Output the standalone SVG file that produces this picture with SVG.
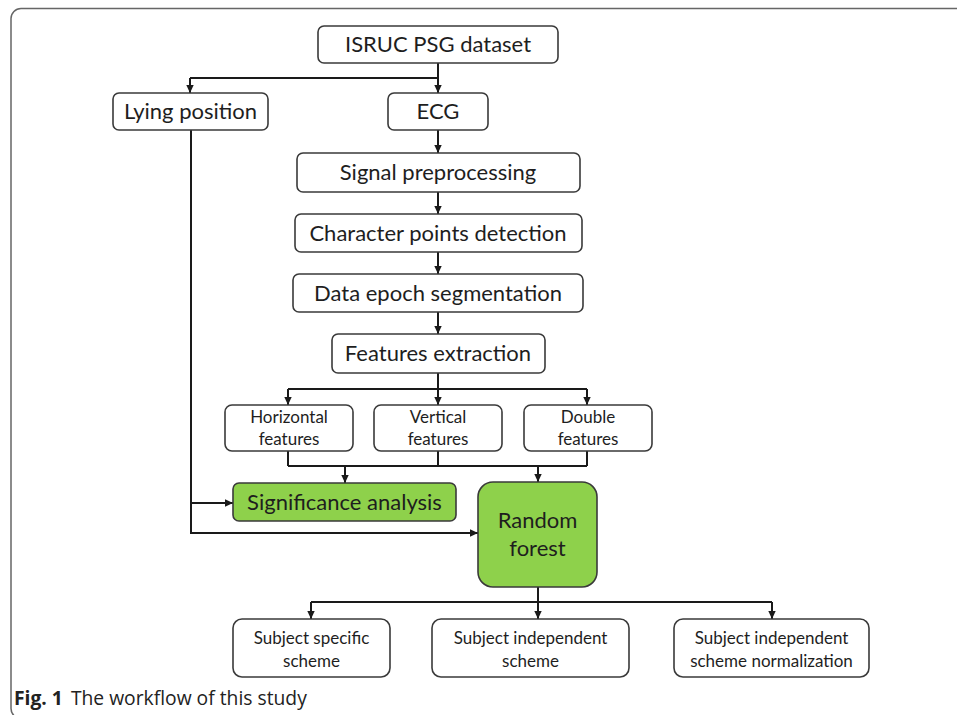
<svg xmlns="http://www.w3.org/2000/svg" width="957" height="715" viewBox="0 0 957 715">
<style>
.box{fill:#fff;stroke:#3a3a3a;stroke-width:1.6}
.green{fill:#8ed14b;stroke:#3a3a3a;stroke-width:1.6}
.t{font-family:Lato,"Open Sans",sans-serif;fill:#1e1e1e;text-anchor:middle}
.big{font-size:22px}
.sm{font-size:17px}
.conn{fill:none;stroke:#1a1a1a;stroke-width:2}
.arr{marker-end:url(#ah)}
.cap{font-family:"Open Sans","Noto Sans",sans-serif;font-size:19.3px;fill:#222}
</style>
<defs>
<marker id="ah" markerUnits="userSpaceOnUse" markerWidth="9" markerHeight="9" refX="8" refY="4.5" orient="auto">
<path d="M0,0.8 L8,4.5 L0,8.2 Z" fill="#1a1a1a"/>
</marker>
</defs>
<rect x="11" y="8.5" width="990" height="710" rx="10" fill="none" stroke="#666" stroke-width="1.5"/>
<g id="connectors">
<path class="conn" d="M438,63 V78 M190,78 H438"/>
<path class="conn arr" d="M438,78 V93"/>
<path class="conn arr" d="M190,78 V93"/>
<path class="conn arr" d="M438,130 V153"/>
<path class="conn arr" d="M438,192 V214"/>
<path class="conn arr" d="M438,252 V274"/>
<path class="conn arr" d="M438,312 V334"/>
<path class="conn" d="M438,373 V389 M288,389 H587"/>
<path class="conn arr" d="M288,389 V405"/>
<path class="conn arr" d="M438,389 V405"/>
<path class="conn arr" d="M587,389 V405"/>
<path class="conn" d="M288,451 V466 M438,451 V466 M587,451 V466 M288,466 H587"/>
<path class="conn arr" d="M345,466 V483"/>
<path class="conn arr" d="M538,466 V482"/>
<path class="conn arr" d="M191,130 V533 H478"/>
<path class="conn arr" d="M191,503 H233"/>
<path class="conn" d="M538,587 V602 M311,602 H772"/>
<path class="conn arr" d="M311,602 V619"/>
<path class="conn arr" d="M538,602 V619"/>
<path class="conn arr" d="M772,602 V619"/>
</g>
<g id="isruc"><rect class="box" x="318" y="26" width="240" height="37" rx="6"/><text class="t big" x="438" y="52">ISRUC PSG dataset</text></g>
<g id="lying"><rect class="box" x="113" y="93" width="155" height="37" rx="6"/><text class="t big" x="190.5" y="119">Lying position</text></g>
<g id="ecg"><rect class="box" x="388" y="93" width="100" height="37" rx="6"/><text class="t big" x="438" y="119">ECG</text></g>
<g id="signal"><rect class="box" x="297" y="153" width="283" height="39" rx="6"/><text class="t big" x="438" y="180">Signal preprocessing</text></g>
<g id="character"><rect class="box" x="295" y="214" width="287" height="38" rx="6"/><text class="t big" x="438" y="241">Character points detection</text></g>
<g id="epoch"><rect class="box" x="293" y="274" width="290" height="38" rx="6"/><text class="t big" x="438" y="301">Data epoch segmentation</text></g>
<g id="features"><rect class="box" x="332" y="334" width="213" height="39" rx="6"/><text class="t big" x="438" y="361">Features extraction</text></g>
<g id="horizontal"><rect class="box" x="225" y="405" width="128" height="46" rx="7"/><text class="t sm" x="289" y="423">Horizontal</text><text class="t sm" x="289" y="445">features</text></g>
<g id="vertical"><rect class="box" x="374" y="405" width="128" height="46" rx="7"/><text class="t sm" x="438" y="423">Vertical</text><text class="t sm" x="438" y="445">features</text></g>
<g id="double"><rect class="box" x="524" y="405" width="128" height="46" rx="7"/><text class="t sm" x="588" y="423">Double</text><text class="t sm" x="588" y="445">features</text></g>
<g id="significance"><rect class="green" x="233" y="483" width="223" height="38" rx="6"/><text class="t big" x="344.5" y="510">Significance analysis</text></g>
<g id="randomforest"><rect class="green" x="478" y="482" width="119" height="105" rx="15"/><text class="t big" x="537.5" y="528">Random</text><text class="t big" x="537.5" y="556">forest</text></g>
<g id="specific"><rect class="box" x="233" y="619" width="157" height="58" rx="9"/><text class="t sm" x="311.5" y="644">Subject specific</text><text class="t sm" x="311.5" y="667">scheme</text></g>
<g id="independent"><rect class="box" x="432" y="619" width="197" height="58" rx="9"/><text class="t sm" x="530.5" y="644">Subject independent</text><text class="t sm" x="530.5" y="667">scheme</text></g>
<g id="normalization"><rect class="box" x="674" y="619" width="195" height="58" rx="9"/><text class="t sm" x="771.5" y="644">Subject independent</text><text class="t sm" x="771.5" y="667">scheme normalization</text></g>
<text class="cap" x="14" y="705"><tspan font-weight="bold">Fig. 1</tspan><tspan dx="8">The workflow of this study</tspan></text>
</svg>
